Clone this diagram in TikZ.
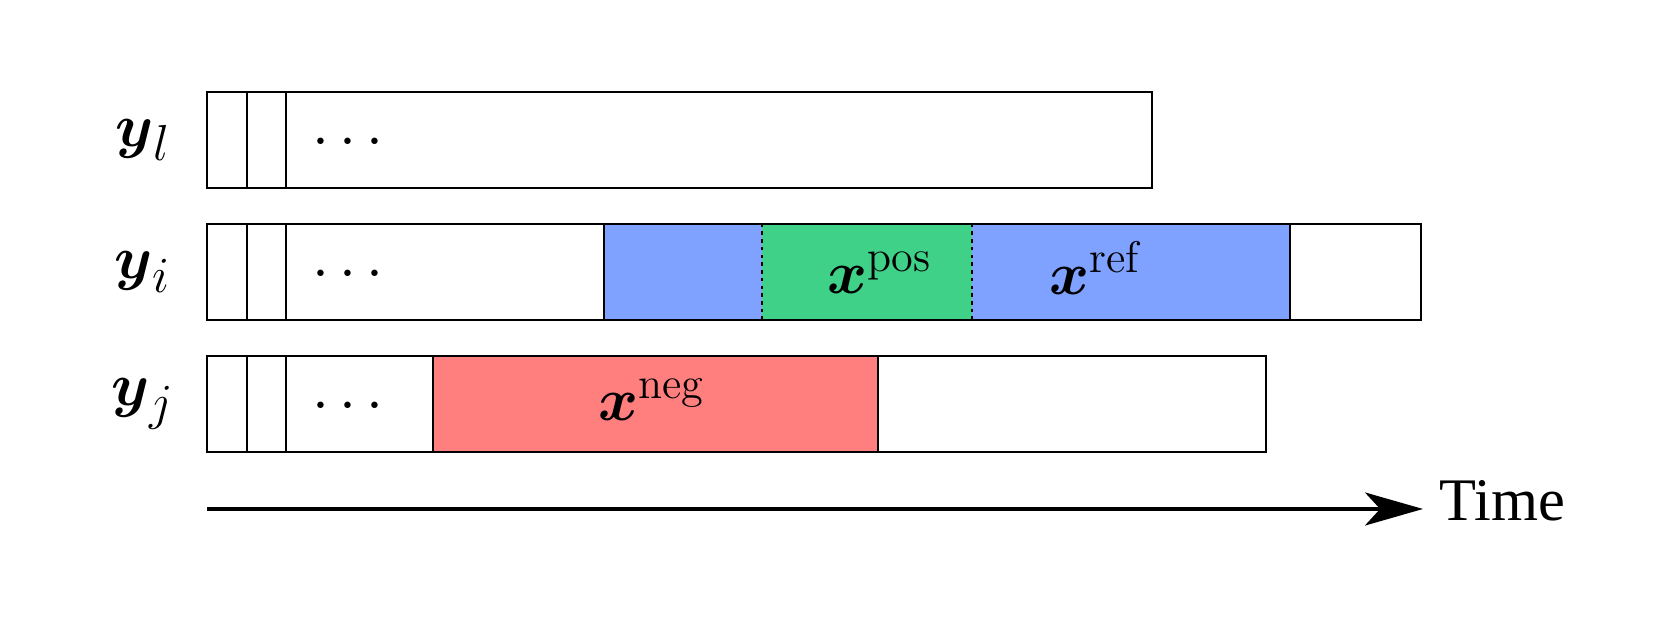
\documentclass[tikz,border=0pt]{standalone}
\usepackage{amsmath,amssymb}
\usepackage{fontspec}
\newfontfamily\timefont{Liberation Serif}
\usepackage{xcolor}
\definecolor{SegBlue}{HTML}{7FA1FF}
\definecolor{SegGreen}{HTML}{40D189}
\definecolor{SegRed}{HTML}{FF7F7F}
\usepackage{tikz}
\usetikzlibrary{arrows.meta,positioning,calc}

\begin{document}
\begin{tikzpicture}[x=1cm,y=1cm,
  bar/.style={draw=black,line width=0.8pt},
  cut/.style={draw=black,line width=0.7pt,dash pattern=on 1pt off 1.2pt},
  lbl/.style={font=\fontsize{19}{23}\selectfont},
  seglbl/.style={font=\fontsize{18}{22}\selectfont,anchor=base},
  dotlbl/.style={font=\fontsize{16.6}{20}\selectfont},
  timeline/.style={line width=1pt,-{Stealth[length=16.5pt,width=9.4pt,inset=4.3pt]}}]
  \useasboundingbox (0,0) rectangle (16.71,6.24);
  % coloured windows first, outlines on top
  \fill[SegBlue] (6.04,3.04) rectangle (12.90,4.00);
  \fill[SegGreen] (7.62,3.04) rectangle (9.72,4.00);
  \fill[SegRed] (4.33,1.72) rectangle (8.78,2.68);
  \draw[bar] (6.04,3.04) -- ++(0,0.96) (12.90,3.04) -- ++(0,0.96);
  \draw[bar] (4.33,1.72) -- ++(0,0.96) (8.78,1.72) -- ++(0,0.96);
  \draw[cut] (7.62,3.04) -- ++(0,0.96) (9.72,3.04) -- ++(0,0.96);
  \foreach \r/\yb/\xr in {l/4.36/11.52,i/3.04/14.21,j/1.72/12.66}{
    \draw[bar] (2.07,\yb) rectangle (\xr,\yb+0.96);
    \draw[bar] (2.47,\yb) -- ++(0,0.96) (2.86,\yb) -- ++(0,0.96);
    \node[dotlbl] (dots\r) at (3.53,\yb+0.45) {$\cdots$};
    \node[lbl] (row\r) at (1.43,\yb+0.48) {$\boldsymbol{y}_\r$};
  }
  \node[seglbl] (pos) at (8.80,3.30) {$\boldsymbol{x}^{\mathrm{pos}}$};
  \node[seglbl] (ref) at (10.95,3.29) {$\boldsymbol{x}^{\mathrm{ref}}$};
  \node[seglbl] (neg) at (6.52,2.03) {$\boldsymbol{x}^{\mathrm{neg}}$};
  \coordinate (tstart) at (2.07,1.15);
  \node[font=\timefont\fontsize{17.2}{20}\selectfont,anchor=west,inner sep=0.16cm] (time) at (14.23,1.23) {Time};
  \draw[timeline] (tstart) -- (tstart -| time.west);
\end{tikzpicture}
\end{document}
